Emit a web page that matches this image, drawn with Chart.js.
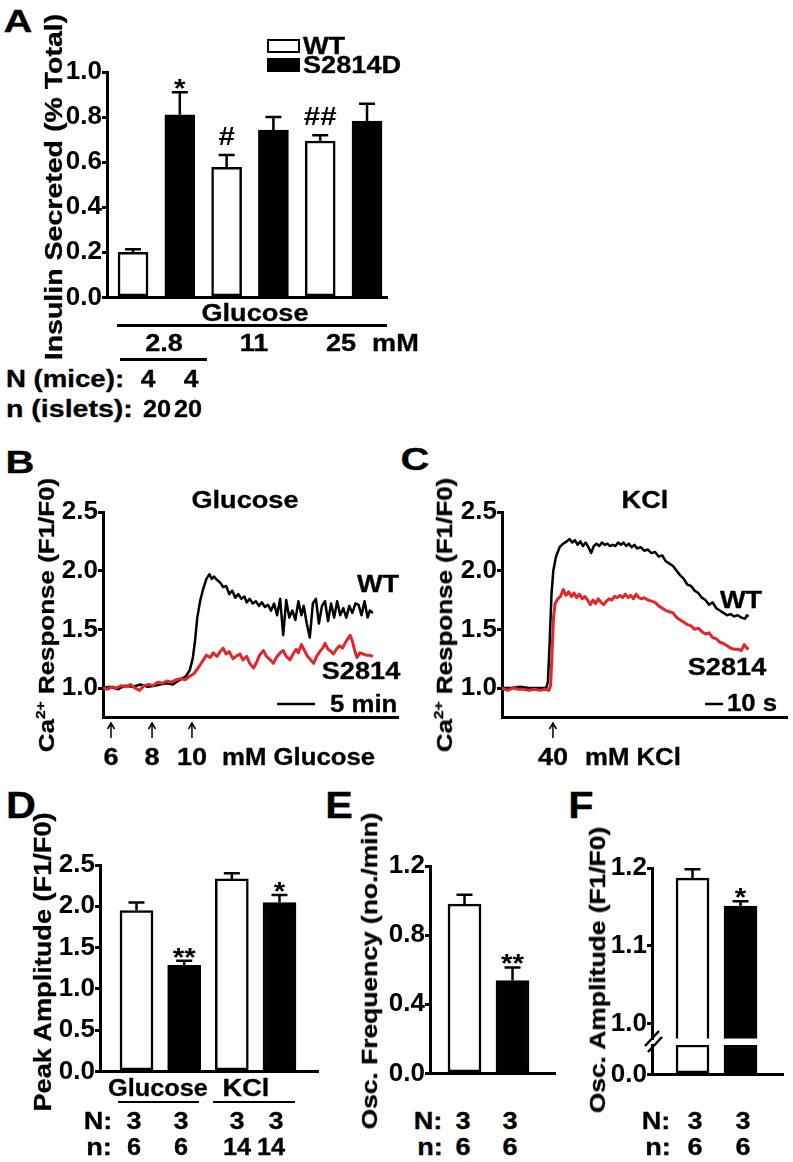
<!DOCTYPE html>
<html>
<head>
<meta charset="utf-8">
<script src="https://cdn.jsdelivr.net/npm/chart.js@4.4.0/dist/chart.umd.min.js"></script>
<style>
  body { margin: 0; background: #fff; }
  #fig { position: relative; width: 793px; height: 1162px; background: #fff; overflow: hidden; }
  .lbl { position: absolute; white-space: nowrap; font-family: 'Liberation Sans', Arial, sans-serif;
         font-weight: bold; line-height: 1; color: #000; -webkit-text-stroke: 0.3px #000; }
  .lbl sup { font-size: 0.6em; vertical-align: 0.65em; line-height: 0; }
  .ln { position: absolute; background: #000; }
  .box { position: absolute; box-sizing: border-box; border: 2.5px solid #000; }
</style>
</head>
<body>
<div id="fig"></div>
<script>
// ---------- data ----------
// A: insulin secretion
const glucoseLevels = ['2.8', '11', '25'];
const insulinWT = [0.20, 0.577, 0.694];
const insulinWTErr = [0.014, 0.055, 0.025];
const insulinS = [0.81, 0.742, 0.782];
const insulinSErr = [0.10, 0.058, 0.077];
const insulinWTMarks = ['', '#', '##'];
const insulinSMarks = ['*', '', ''];
const miceN = ['4', '4'];
const isletsN = ['20', '20'];

// B: Ca2+ trace, glucose (time in min, F1/F0)
const glucoseTraceWT = [[0,1.00],[0.9,1.01],[2.0,0.99],[2.9,1.02],[3.9,1.01],[4.9,1.03],[5.9,1.01],[6.8,1.02],[7.5,1.03],[8.4,1.04],
  [9.2,1.03],[10.1,1.07],[10.9,1.10],[11.4,1.15],[11.8,1.25],[12.1,1.40],[12.4,1.60],[12.8,1.75],[13.2,1.85],[13.6,1.93],
  [14.0,1.97],[14.3,1.93],[14.6,1.95],[15.0,1.92],[15.4,1.90],[15.8,1.86],[16.2,1.87],[16.6,1.80],[17.0,1.83],[17.4,1.77],
  [17.8,1.80],[18.2,1.76],[18.6,1.78],[18.9,1.73],[19.3,1.76],[19.7,1.72],[20.1,1.74],[20.5,1.70],[20.9,1.73],[21.3,1.69],
  [21.7,1.71],[22.1,1.66],[22.5,1.72],[22.9,1.62],[23.3,1.76],[23.7,1.45],[24.1,1.75],[24.5,1.60],[24.9,1.66],[25.3,1.58],
  [25.7,1.74],[26.1,1.62],[26.4,1.70],[26.8,1.55],[27.2,1.43],[27.6,1.72],[28.0,1.76],[28.4,1.55],[28.8,1.70],[29.2,1.74],
  [29.6,1.57],[30.0,1.72],[30.4,1.60],[30.8,1.74],[31.2,1.62],[31.6,1.68],[32.0,1.60],[32.4,1.70],[32.8,1.64],[33.2,1.72],
  [33.6,1.71],[34.0,1.62],[34.4,1.74],[34.8,1.60],[35.1,1.66],[35.5,1.64]];
const glucoseTraceS = [[0,1.00],[0.6,0.99],[1.2,1.01],[1.8,1.00],[2.4,1.02],[3.0,1.01],[3.6,1.03],[4.2,1.00],[4.8,0.98],[5.4,1.02],
  [6.0,1.03],[6.6,1.02],[7.2,1.05],[7.8,1.04],[8.4,1.06],[9.0,1.05],[9.6,1.07],[10.2,1.08],[10.8,1.07],[11.4,1.10],
  [11.9,1.12],[12.4,1.16],[12.8,1.20],[13.2,1.24],[13.6,1.28],[14.1,1.26],[14.5,1.30],[15.0,1.27],[15.4,1.31],[15.8,1.34],
  [16.2,1.29],[16.6,1.31],[17.1,1.25],[17.5,1.27],[18.0,1.29],[18.4,1.24],[18.9,1.27],[19.3,1.21],[19.8,1.17],[20.2,1.22],
  [20.6,1.28],[21.1,1.32],[21.5,1.27],[22.0,1.24],[22.4,1.21],[22.8,1.26],[23.3,1.30],[23.7,1.32],[24.1,1.27],[24.6,1.24],
  [25.0,1.29],[25.4,1.33],[25.7,1.30],[26.1,1.37],[26.5,1.32],[26.9,1.27],[27.3,1.24],[27.7,1.21],[28.1,1.27],[28.5,1.31],
  [28.9,1.34],[29.2,1.38],[29.6,1.33],[30.0,1.31],[30.3,1.29],[30.7,1.33],[31.1,1.36],[31.5,1.34],[31.9,1.39],[32.2,1.42],
  [32.5,1.45],[32.8,1.40],[33.1,1.32],[33.4,1.26],[33.8,1.30],[34.2,1.29],[34.6,1.28],[35.0,1.28],[35.5,1.27]];
const glucoseSteps = [1.05, 6.45, 11.7];
const glucoseStepLabels = ['6', '8', '10'];

// C: Ca2+ trace, KCl (time in s, F1/F0)
const kclTraceWT = [[0,1.00],[5,1.00],[10,1.01],[15,1.00],[20,1.00],[24.5,1.00],[25.5,1.05],[26.5,1.40],[27.5,1.80],[28.5,2.00],
  [30,2.12],[32,2.20],[34,2.23],[36,2.25],[37.5,2.27],[39,2.24],[40.5,2.26],[42,2.22],[43.5,2.25],[45,2.21],
  [46.5,2.24],[48,2.20],[49.5,2.15],[51,2.21],[52.5,2.23],[54,2.21],[55.5,2.24],[57,2.22],[58.5,2.23],[60,2.21],
  [61.5,2.22],[63,2.21],[64.5,2.24],[66,2.22],[67.5,2.24],[69,2.21],[70.5,2.23],[72,2.20],[73.5,2.22],[75,2.19],
  [77,2.20],[79,2.17],[81,2.18],[83,2.15],[85,2.16],[87,2.12],[89,2.13],[91,2.08],[93,2.06],[95,2.04],
  [97,2.00],[99,1.96],[101,1.93],[103,1.88],[105,1.87],[107,1.83],[109,1.81],[111,1.77],[113,1.75],[115,1.71],
  [117,1.73],[119,1.68],[121,1.66],[123,1.64],[125,1.62],[127,1.63],[129,1.61],[131,1.62],[133,1.60],[135,1.59],
  [136,1.62],[137,1.61]];
const kclTraceS = [[0,1.00],[3,0.98],[6,1.00],[9,0.99],[12,0.99],[15,0.98],[18,0.99],[21,0.98],[24,0.99],[26,0.98],
  [27,1.02],[27.8,1.30],[28.6,1.60],[29.5,1.72],[31,1.76],[32.5,1.78],[34,1.84],[35.5,1.79],[37,1.82],[38.5,1.78],
  [40,1.81],[41.5,1.77],[43,1.80],[44.5,1.76],[46,1.78],[47.5,1.75],[49,1.71],[50.5,1.75],[52,1.72],[53.5,1.76],
  [55,1.73],[56.5,1.71],[58,1.74],[59.5,1.76],[61,1.75],[62.5,1.78],[64,1.77],[65.5,1.79],[67,1.77],[68.5,1.80],
  [70,1.77],[71.5,1.79],[73,1.76],[74.5,1.80],[76,1.77],[77.5,1.76],[79,1.77],[81,1.75],[83,1.74],[85,1.73],
  [87,1.70],[89,1.68],[91,1.66],[93,1.65],[95,1.64],[97,1.60],[99,1.58],[101,1.56],[103,1.54],[105,1.53],
  [107,1.50],[109,1.51],[111,1.48],[113,1.46],[115,1.47],[117,1.43],[119,1.42],[121,1.39],[123,1.38],[125,1.36],
  [127,1.34],[129,1.33],[131,1.33],[133,1.32],[134.5,1.37],[136,1.34],[137,1.33]];
const kclSteps = [28.3];
const kclStepLabels = ['40'];

// D: peak amplitude
const peakGroups = ['Glucose', 'KCl'];
const peakWT = [1.948, 2.331];
const peakWTErr = [0.097, 0.069];
const peakS = [1.284, 2.045];
const peakSErr = [0.057, 0.093];
const peakSMarks = ['**', '*'];
const peakN = ['3', '3', '3', '3'];
const peakn = ['6', '6', '14', '14'];

// E: oscillation frequency
const freqWT = [0.979];
const freqWTErr = [0.054];
const freqS = [0.537];
const freqSErr = [0.076];
const freqSMarks = ['**'];

// F: oscillation amplitude
const ampWT = [1.187];
const ampWTErr = [0.0115];
const ampS = [1.151];
const ampSErr = [0.0064];
const ampSMarks = ['*'];
const oscN = ['3', '3'];
const oscn = ['6', '6'];

// ---------- helpers ----------
const fig = document.getElementById('fig');
const FONT = "'Liberation Sans', Arial, sans-serif";
const RED = '#e3262b';

function label(txt, x, y, o = {}) {
  const d = document.createElement('div');
  d.className = 'lbl';
  d.innerHTML = txt;
  const sx = o.sx || 1.18;
  d.style.fontSize = (o.size || 22) + 'px';
  d.style.left = x + 'px';
  d.style.top = y + 'px';
  if (o.rot) {
    d.style.transform = `translate(-50%,-50%) rotate(-90deg) scaleX(${sx})`;
  } else if (o.align === 'left') {
    d.style.transformOrigin = '0 50%';
    d.style.transform = `translate(0,-50%) scaleX(${sx})`;
  } else {
    d.style.transform = `translate(-50%,-50%) scaleX(${sx})`;
  }
  fig.appendChild(d);
}
function hline(x1, x2, y, w) {
  const d = document.createElement('div');
  d.className = 'ln';
  d.style.cssText = `left:${x1}px;top:${y - w / 2}px;width:${x2 - x1}px;height:${w}px`;
  fig.appendChild(d);
}

// draw upward error bars and significance marks from the data
const errPlugin = {
  id: 'errBars',
  afterDatasetsDraw(chart) {
    const ctx = chart.ctx, ys = chart.scales.y;
    chart.data.datasets.forEach((ds, di) => {
      if (!ds.errors) return;
      chart.getDatasetMeta(di).data.forEach((bar, j) => {
        const top = ys.getPixelForValue(ds.data[j].y + ds.errors[j]);
        ctx.save();
        ctx.strokeStyle = '#000';
        ctx.lineWidth = 2.5;
        ctx.beginPath();
        ctx.moveTo(bar.x, bar.y);
        ctx.lineTo(bar.x, top);
        ctx.moveTo(bar.x - 8, top);
        ctx.lineTo(bar.x + 8, top);
        ctx.stroke();
        const m = ds.marks && ds.marks[j];
        if (m) {
          ctx.font = 'bold 25px ' + FONT;
          ctx.fillStyle = '#000';
          ctx.textAlign = 'center';
          ctx.textBaseline = 'alphabetic';
          const d = ctx.measureText(m).actualBoundingBoxDescent;
          const gap = m.includes('#') ? 10 : 3;
          ctx.translate(bar.x, top - gap - d);
          ctx.scale(1.18, 1);
          ctx.fillText(m, 0, 0);
        }
        ctx.restore();
      });
    });
  }
};

// scale bar and stimulus arrows for the traces
const tracePlugin = {
  id: 'traceExtras',
  afterDraw(chart, args, opts) {
    const ctx = chart.ctx, xs = chart.scales.x, a = chart.chartArea;
    ctx.save();
    ctx.strokeStyle = '#000';
    ctx.lineWidth = 2.5;
    const yb = a.bottom - 13;
    ctx.beginPath();
    ctx.moveTo(xs.getPixelForValue(opts.barStart), yb);
    ctx.lineTo(xs.getPixelForValue(opts.barStart + opts.barLen), yb);
    ctx.stroke();
    ctx.lineWidth = 1.5;
    opts.steps.forEach(t => {
      const x = xs.getPixelForValue(t);
      ctx.beginPath();
      ctx.moveTo(x, a.bottom + 6);
      ctx.lineTo(x, a.bottom + 21);
      ctx.moveTo(x - 3.5, a.bottom + 12);
      ctx.lineTo(x, a.bottom + 6);
      ctx.lineTo(x + 3.5, a.bottom + 12);
      ctx.stroke();
    });
    ctx.restore();
  }
};

function addChart(area, pads, config) {
  const { yw, xh, pt, pr } = pads;
  const c = document.createElement('canvas');
  const w = area.r - area.l + yw + pr, h = area.b - area.t + pt + xh;
  c.width = w; c.height = h;
  c.style.cssText = `position:absolute;left:${area.l - yw}px;top:${area.t - pt}px;width:${w}px;height:${h}px`;
  fig.appendChild(c);
  config.options.responsive = false;
  config.options.animation = false;
  config.options.devicePixelRatio = 1;
  config.options.layout = { padding: { top: pt, right: pr, left: 0, bottom: 0 } };
  config.options.scales.x.afterFit = s => { s.height = xh; };
  config.options.scales.y.afterFit = s => { s.width = yw; };
  return new Chart(c, config);
}

function yAxis(min, max, step) {
  return {
    min, max,
    border: { color: '#000', width: 3 },
    grid: { drawOnChartArea: false, color: '#000', lineWidth: 3, tickLength: 5 },
    ticks: { stepSize: step, includeBounds: false, padding: 0, color: '#000',
             font: { family: FONT, size: 26, weight: 'bold' }, callback: v => v.toFixed(1) }
  };
}
function xAxis(min, max) {
  return {
    type: 'linear', min, max, offset: false,
    border: { color: '#000', width: 3 },
    grid: { display: false, drawTicks: false, offset: false },
    ticks: { display: false }
  };
}
function barSets(wt, wtErr, wtMarks, s, sErr, sMarks, thick) {
  const common = { borderColor: '#000', borderWidth: 2.5, borderSkipped: false, grouped: false,
                   maxBarThickness: thick, barPercentage: 1, categoryPercentage: 1 };
  return [
    Object.assign({ label: 'WT', data: wt.map((v, i) => ({ x: 2 * i, y: v })),
                    errors: wtErr, marks: wtMarks, backgroundColor: '#fff' }, common),
    Object.assign({ label: 'S2814D', data: s.map((v, i) => ({ x: 2 * i + 1, y: v })),
                    errors: sErr, marks: sMarks, backgroundColor: '#000' }, common)
  ];
}
function traceSet(trace, color, width) {
  return { data: trace.map(([t, v]) => ({ x: t, y: v })), borderColor: color, borderWidth: width,
           pointRadius: 0, tension: 0, fill: false, borderJoinStyle: 'round' };
}
const noPlug = { legend: { display: false }, tooltip: { enabled: false } };
const barPads = { yw: 50, xh: 15, pt: 16, pr: 2 };

// ---------- A ----------
addChart({ l: 107, t: 72, r: 387, b: 298 }, barPads, {
  type: 'bar',
  data: { datasets: barSets(insulinWT, insulinWTErr, insulinWTMarks, insulinS, insulinSErr, insulinSMarks, 30) },
  options: { plugins: noPlug, scales: { x: xAxis(-0.556, 5.427), y: yAxis(0, 1.0, 0.2) } },
  plugins: [errPlugin]
});

// ---------- B ----------
addChart({ l: 103, t: 512, r: 398, b: 717 }, { yw: 50, xh: 30, pt: 16, pr: 2 }, {
  type: 'line',
  data: { datasets: [traceSet(glucoseTraceS, RED, 3), traceSet(glucoseTraceWT, '#000', 2.5)] },
  options: { plugins: Object.assign({ traceExtras: { barStart: 22.9, barLen: 5, steps: glucoseSteps } }, noPlug),
             scales: { x: xAxis(0, 38.8), y: yAxis(0.753, 2.5, 0.5) } },
  plugins: [tracePlugin]
});

// ---------- C ----------
addChart({ l: 502, t: 512, r: 787, b: 717 }, { yw: 50, xh: 30, pt: 16, pr: 2 }, {
  type: 'line',
  data: { datasets: [traceSet(kclTraceS, RED, 3), traceSet(kclTraceWT, '#000', 2.5)] },
  options: { plugins: Object.assign({ traceExtras: { barStart: 112.8, barLen: 10, steps: kclSteps } }, noPlug),
             scales: { x: xAxis(0, 158.3), y: yAxis(0.753, 2.5, 0.5) } },
  plugins: [tracePlugin]
});

// ---------- D ----------
addChart({ l: 100, t: 865, r: 318, b: 1072 }, barPads, {
  type: 'bar',
  data: { datasets: barSets(peakWT, peakWTErr, ['', ''], peakS, peakSErr, peakSMarks, 33) },
  options: { plugins: noPlug, scales: { x: xAxis(-0.766, 3.808), y: yAxis(0, 2.5, 0.5) } },
  plugins: [errPlugin]
});

// ---------- E ----------
addChart({ l: 430, t: 866, r: 555, b: 1074 }, barPads, {
  type: 'bar',
  data: { datasets: barSets(freqWT, freqWTErr, [''], freqS, freqSErr, freqSMarks, 33) },
  options: { plugins: noPlug, scales: { x: xAxis(-0.719, 1.885), y: yAxis(0, 1.2, 0.4) } },
  plugins: [errPlugin]
});

// ---------- F (broken axis: upper and lower segment) ----------
addChart({ l: 652, t: 868, r: 783, b: 1040 }, { yw: 50, xh: 14, pt: 16, pr: 2 }, {
  type: 'bar',
  data: { datasets: barSets(ampWT, ampWTErr, [''], ampS, ampSErr, ampSMarks, 33) },
  options: { plugins: noPlug, scales: { x: Object.assign(xAxis(-0.844, 1.885), { border: { display: false } }),
                                        y: yAxis(0.981, 1.2, 0.1) } },
  plugins: [errPlugin]
});
const fLowMax = 0.1;
const fLow = barSets(ampWT.map(v => Math.min(v, fLowMax)), null, null,
                     ampS.map(v => Math.min(v, fLowMax)), null, null, 33);
fLow.forEach(ds => { delete ds.errors; });
addChart({ l: 652, t: 1045, r: 783, b: 1075 }, { yw: 50, xh: 15, pt: 16, pr: 2 }, {
  type: 'bar',
  data: { datasets: fLow },
  options: { plugins: noPlug, scales: { x: xAxis(-0.844, 1.885), y: yAxis(0, fLowMax, 1) } }
});
// axis break mark
(function () {
  const ns = 'http://www.w3.org/2000/svg';
  const svg = document.createElementNS(ns, 'svg');
  svg.setAttribute('width', 30); svg.setAttribute('height', 30);
  svg.style.cssText = 'position:absolute;left:640px;top:1028px';
  [[5, 18, 19, 3], [8, 24, 22, 9]].forEach(([x1, y1, x2, y2]) => {
    const l = document.createElementNS(ns, 'line');
    l.setAttribute('x1', x1); l.setAttribute('y1', y1);
    l.setAttribute('x2', x2); l.setAttribute('y2', y2);
    l.setAttribute('stroke', '#000'); l.setAttribute('stroke-width', 2.5);
    svg.appendChild(l);
  });
  fig.appendChild(svg);
})();

// ---------- text ----------
// panel letters
label('A', 18, 21, { size: 32, sx: 1.25 });
label('B', 20, 462, { size: 32, sx: 1.25 });
label('C', 415, 459, { size: 32, sx: 1.25 });
label('D', 21, 806, { size: 36, sx: 1.15 });
label('E', 339, 806, { size: 36, sx: 1.15 });
label('F', 581, 806, { size: 36, sx: 1.15 });

// A
const legWT = document.createElement('div');
legWT.className = 'box';
legWT.style.cssText = 'left:267px;top:39px;width:33px;height:14px;background:#fff';
fig.appendChild(legWT);
const legS = document.createElement('div');
legS.className = 'box';
legS.style.cssText = 'left:267px;top:58px;width:33px;height:14px;background:#000';
fig.appendChild(legS);
label('WT', 303, 46, { align: 'left', size: 23 });
label('S2814D', 303, 65, { align: 'left', size: 23 });
label('Insulin Secreted (% Total)', 54, 187, { rot: true, size: 23, sx: 1.24 });
label('Glucose', 255, 313, { size: 23 });
hline(117, 387, 325, 3);
[164, 254, 341].forEach((x, i) => label(glucoseLevels[i], x, 343, { size: 23 }));
label('mM', 372, 343, { align: 'left', size: 23 });
hline(120, 207, 359, 3);
label('N (mice):', 6, 379, { align: 'left', size: 23, sx: 1.2 });
[148, 191].forEach((x, i) => label(miceN[i], x, 379, { size: 23, sx: 1.15 }));
label('n (islets):', 6, 409, { align: 'left', size: 23, sx: 1.24 });
[157, 188].forEach((x, i) => label(isletsN[i], x, 409, { size: 23, sx: 1.1 }));

// B
label('Glucose', 245, 500, { size: 23 });
label('Ca<sup>2+</sup> Response (F1/F0)', 47, 615, { rot: true, size: 22, sx: 1.18 });
label('WT', 378, 584, { size: 23 });
label('S2814', 361, 671, { size: 23 });
label('5 min', 330, 704, { align: 'left', size: 23, sx: 1.12 });
[111, 152, 192].forEach((x, i) => label(glucoseStepLabels[i], x, 757, { size: 23 }));
label('mM Glucose', 222, 757, { align: 'left', size: 23, sx: 1.12 });

// C
label('KCl', 645, 500, { size: 23 });
label('Ca<sup>2+</sup> Response (F1/F0)', 445, 615, { rot: true, size: 22, sx: 1.18 });
label('WT', 741, 600, { size: 23 });
label('S2814', 727, 667, { size: 23 });
label('10 s', 727, 703, { align: 'left', size: 23, sx: 1.12 });
label(kclStepLabels[0], 553, 757, { size: 23 });
label('mM KCl', 585, 757, { align: 'left', size: 23, sx: 1.12 });

// D
label('Peak Amplitude (F1/F0)', 43, 962, { rot: true, size: 23, sx: 1.18 });
label(peakGroups[0], 158, 1088, { size: 23, sx: 1.1 });
label(peakGroups[1], 246, 1088, { size: 23 });
hline(118, 199, 1102, 2.5);
hline(213, 295, 1102, 2.5);
label('N:', 98, 1121, { size: 23 });
label('n:', 99, 1147, { size: 23 });
[134, 181, 237, 276].forEach((x, i) => label(peakN[i], x, 1121, { size: 23 }));
[134, 181, 237, 271].forEach((x, i) => label(peakn[i], x, 1147, { size: 23, sx: 1.1 }));

// E
label('Osc. Frequency (no./min)', 370, 971, { rot: true, size: 22, sx: 1.2 });
label('N:', 428, 1121, { size: 23 });
label('n:', 430, 1147, { size: 23 });
[463, 510].forEach((x, i) => { label(oscN[i], x, 1121, { size: 23 }); label(oscn[i], x, 1147, { size: 23 }); });

// F
label('Osc. Amplitude (F1/F0)', 598, 970, { rot: true, size: 22, sx: 1.2 });
label('N:', 656, 1121, { size: 23 });
label('n:', 658, 1147, { size: 23 });
[695, 743].forEach((x, i) => { label(oscN[i], x, 1121, { size: 23 }); label(oscn[i], x, 1147, { size: 23 }); });
</script>
</body>
</html>
